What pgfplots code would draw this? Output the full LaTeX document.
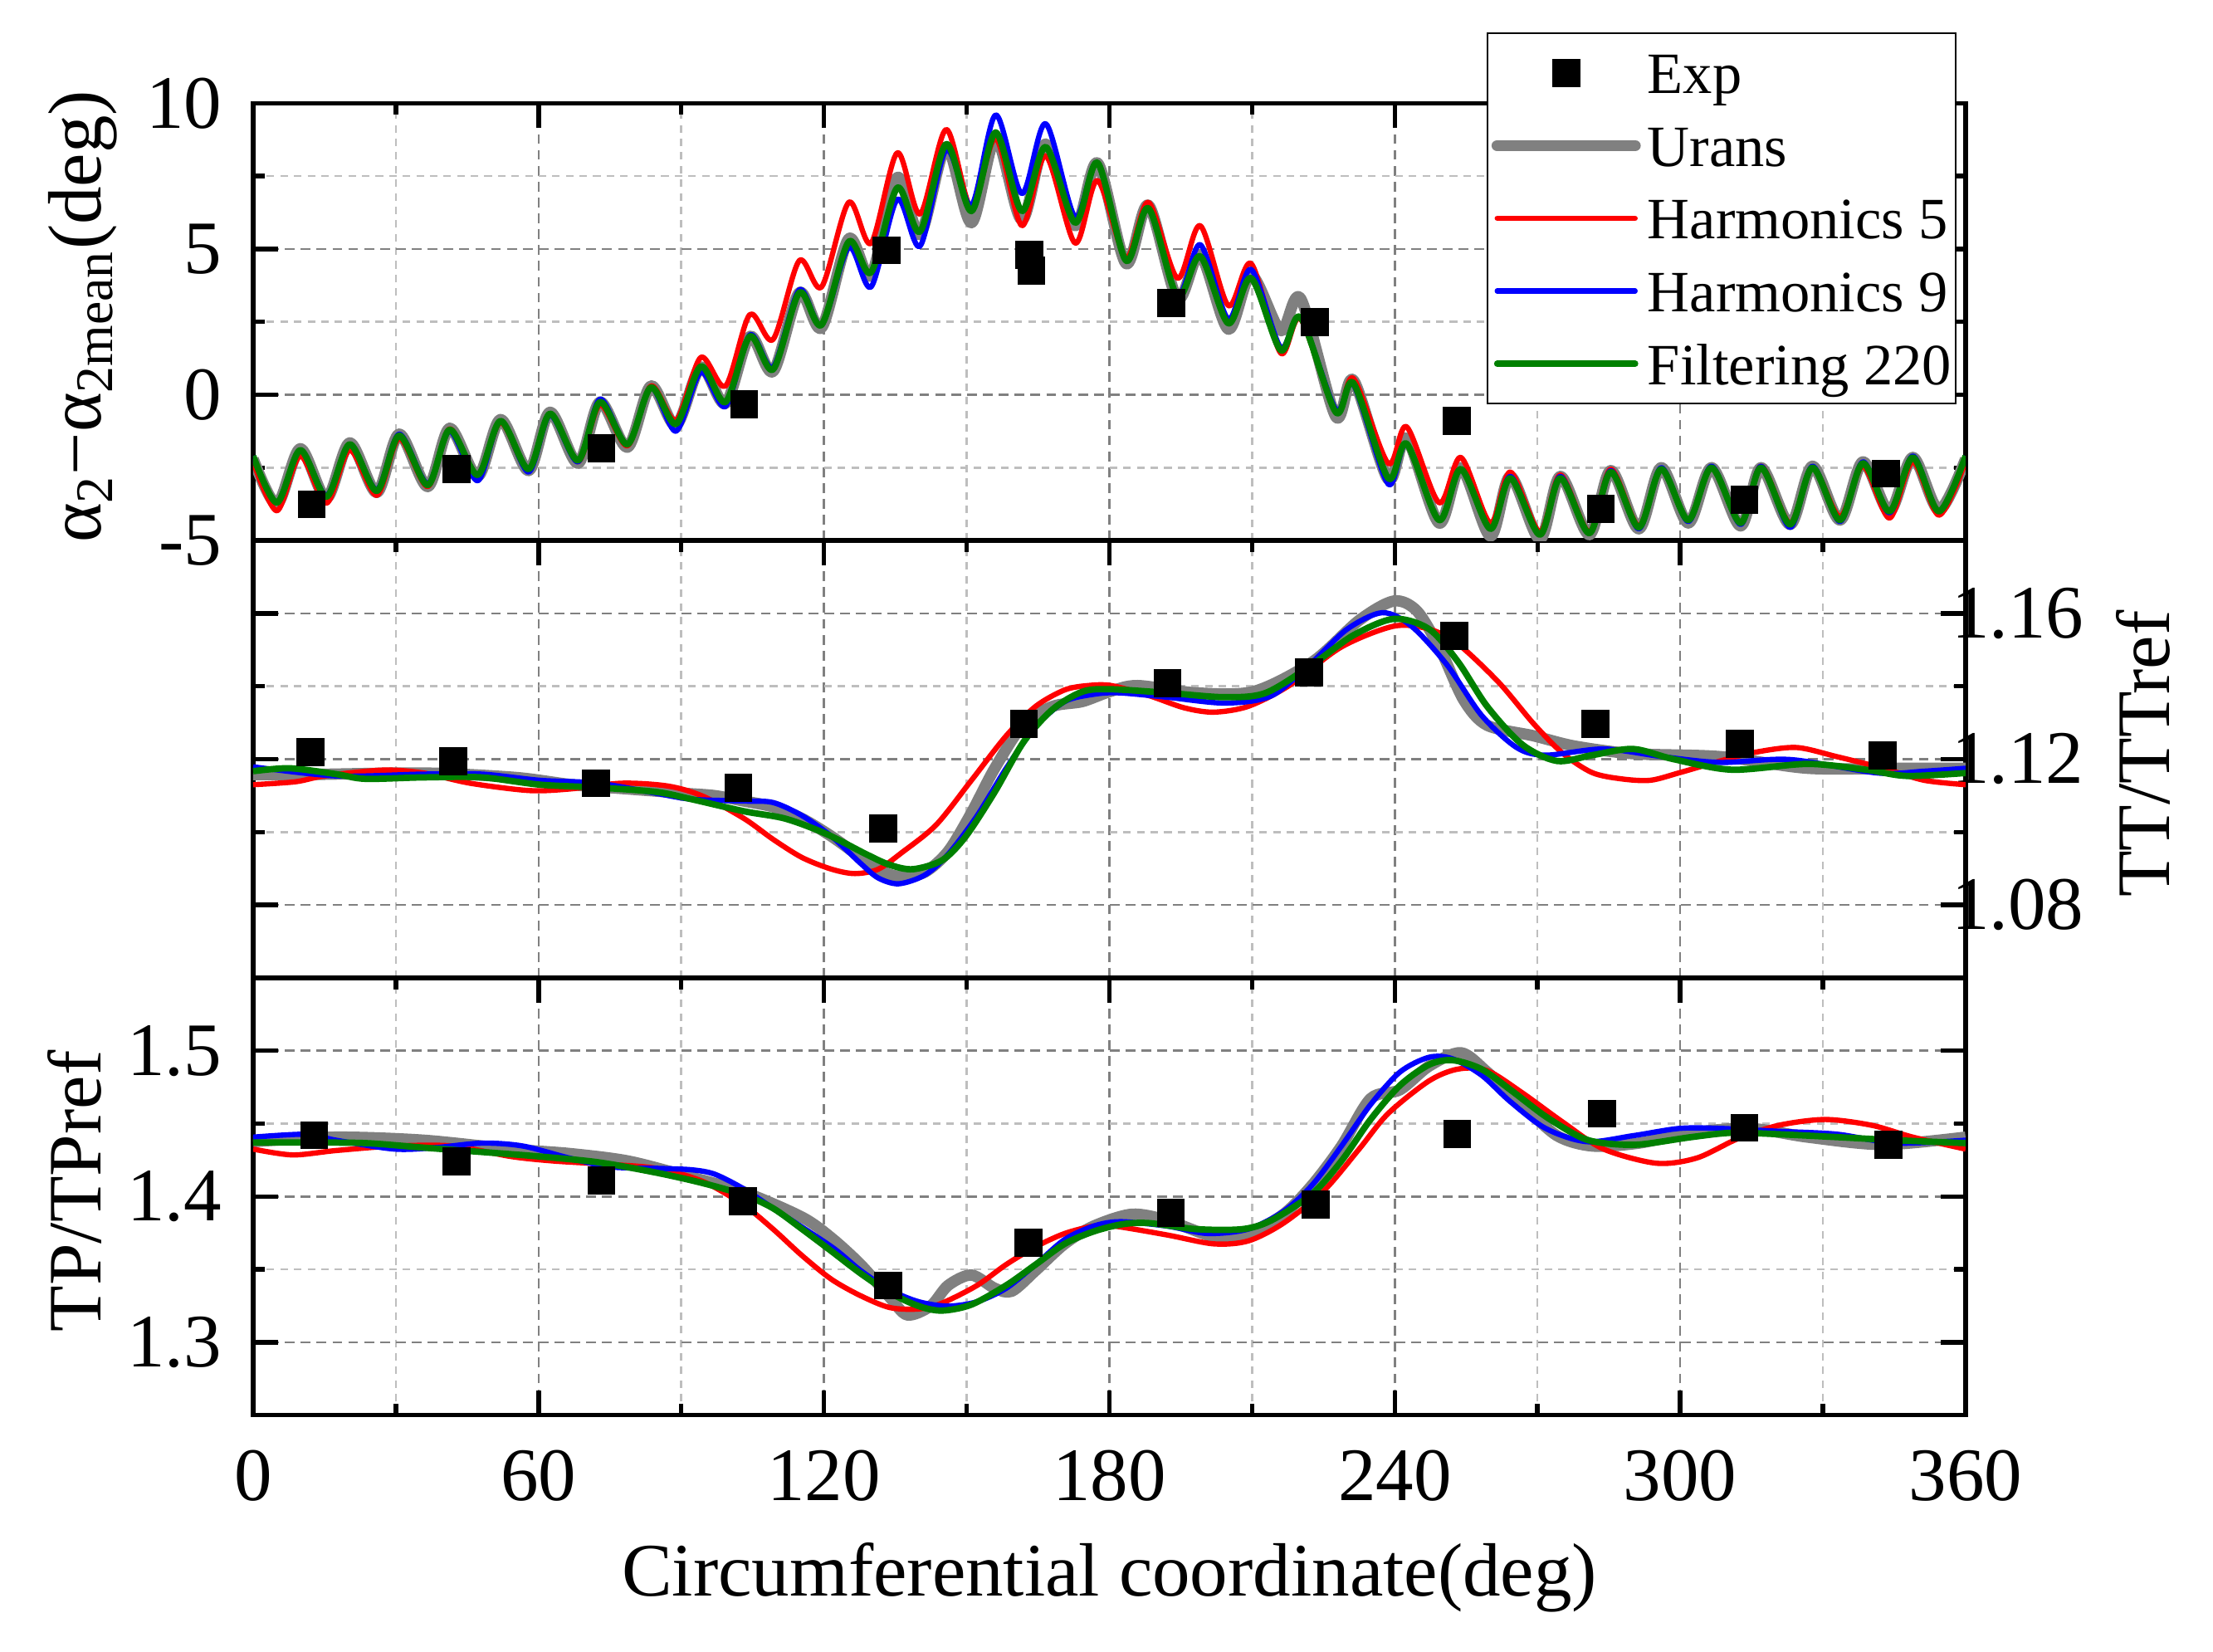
\documentclass[border=0pt]{standalone}
\usepackage{fontspec}
\setmainfont{Liberation Serif}
\usepackage{pgfplots}
\pgfplotsset{compat=1.18}
\definecolor{cgrey}{RGB}{128,128,128}
\definecolor{cgreen}{RGB}{0,128,0}
\definecolor{gridmaj}{RGB}{128,128,128}
\definecolor{gridmin}{RGB}{190,190,190}
\newcommand{\bigfont}{\fontsize{20}{24}\selectfont}
\newcommand{\legfont}{\fontsize{15.5}{18}\selectfont}
\newcommand{\lstrut}{\rule[-2pt]{0pt}{14.5pt}}
\pgfplotsset{
  panel/.style={
    scale only axis, width=453.4pt, height=115.77pt,
    xmin=0, xmax=360,
    xtick={0,60,...,360}, minor xtick={30,90,...,330},
    tick align=inside,
    major tick length=6.6pt, minor tick length=3.1pt,
    major tick style={black, line width=1.2pt},
    minor tick style={black, line width=1.2pt},
    axis line style={black, line width=1.2pt},
    grid=both,
    major grid style={gridmaj, line width=0.55pt, dash pattern=on 2.6pt off 1.6pt},
    minor grid style={gridmin, line width=0.55pt, dash pattern=on 2pt off 1.6pt},
    tick label style={font=\bigfont, inner sep=0pt},
    label style={font=\bigfont},
    xticklabel style={anchor=base, yshift=-22.7pt},
    yticklabel style={anchor=east, xshift=-8.1pt},
    ylabel style={at={(axis description cs:-0.089,0.512)}, anchor=base},
    ytick pos=both,
  },
  sexp/.style={only marks, mark=square*, mark size=3.6pt, mark options={draw=black, fill=black, line width=0.2pt}},
  explegend/.style={legend image code/.code={\draw[##1, only marks, mark repeat=2, mark phase=2] plot coordinates {(0pt,0pt)(18.25pt,0pt)(36.5pt,0pt)};}},
  linelegend/.style={legend image code/.code={\draw[##1, line cap=round] (0pt,0pt) -- (36.5pt,0pt);}},
  surans/.style={cgrey, line width=3pt, smooth, line join=round},
  sh5/.style={red, line width=1.4pt, smooth, line join=round},
  sh9/.style={blue, line width=1.4pt, smooth, line join=round},
  sf220/.style={cgreen, line width=1.7pt, smooth, line join=round},
}
\begin{document}
\begin{tikzpicture}
% ---------------- bottom panel ----------------
\begin{axis}[panel, at={(67.03pt,62.5pt)}, anchor=south west,
  ymin=1.25, ymax=1.55, ytick={1.3,1.4,1.5}, minor ytick={1.35,1.45},
  yticklabels={1.3,1.4,1.5},
  xticklabels={0,60,120,180,240,300,360},
  xtick pos=both,
  ylabel={TP/TPref},
  xlabel={Circumferential coordinate(deg)},
  xlabel style={at={(axis description cs:0.5,0)}, anchor=base, yshift=-47.9pt},
]
\addplot[sexp] coordinates {(12.8,1.442)(42.7,1.424)(73.2,1.4108)(103,1.3967)(133.5,1.339)(163,1.3683)(192.9,1.3888)(223.3,1.3945)(253.1,1.4427)(283.6,1.4569)(313.5,1.4472)(343.8,1.4354)};
\addplot[surans] coordinates {(0,1.4376)(17.4,1.4407)(35.8,1.4386)(54.2,1.4325)(66.4,1.4295)(78.7,1.4244)(90.9,1.4142)(103.2,1.403)(115.4,1.3858)(121.6,1.3715)(127.7,1.3533)(133.8,1.3309)(137.5,1.3187)(142.4,1.3248)(146.1,1.339)(151.0,1.3461)(155.9,1.337)(159.5,1.335)(164.5,1.3492)(170.6,1.3675)(176.7,1.3797)(184.7,1.3878)(192.1,1.3837)(201.9,1.3726)(209.2,1.3746)(216.6,1.3878)(222.7,1.4081)(228.8,1.4346)(234.9,1.4671)(241.1,1.4732)(247.2,1.4894)(253.9,1.4986)(259.4,1.4854)(266.8,1.463)(274.1,1.4417)(281.5,1.4346)(291.3,1.4366)(302.3,1.4437)(314.6,1.4467)(326.8,1.4407)(342.7,1.4356)(360,1.4407)};
\addplot[sh5] coordinates {(0,1.4325)(8.3,1.4285)(17.4,1.4315)(29.7,1.4346)(42.0,1.4346)(54.2,1.4274)(62.8,1.4244)(72.6,1.4224)(84.8,1.4193)(94.6,1.4102)(103.2,1.3939)(109.3,1.3776)(115.4,1.3594)(121.6,1.3431)(127.7,1.3319)(133.8,1.3238)(139.9,1.3228)(144.8,1.3268)(152.2,1.339)(158.3,1.3533)(164.5,1.3655)(170.6,1.3746)(176.7,1.3797)(181.0,1.3797)(192.1,1.3736)(201.9,1.3675)(209.2,1.3695)(216.6,1.3817)(225.1,1.404)(232.5,1.4325)(238.6,1.4569)(247.2,1.4793)(253.3,1.4874)(259.4,1.4864)(266.8,1.4711)(275.4,1.4508)(283.9,1.4325)(295.0,1.4228)(303.5,1.4264)(312.1,1.4396)(320.7,1.4488)(330.5,1.4528)(340.3,1.4488)(348.9,1.4407)(360,1.4325)};
\addplot[sh9] coordinates {(0,1.4407)(11.3,1.4427)(17.4,1.4386)(29.7,1.4325)(38.3,1.4335)(48.1,1.4366)(56.7,1.4346)(66.4,1.4264)(75.0,1.4203)(84.8,1.4193)(92.2,1.4183)(97.1,1.4152)(103.2,1.4051)(109.3,1.3919)(121.6,1.3655)(127.7,1.3492)(133.8,1.336)(139.9,1.3278)(146.1,1.3248)(152.2,1.3278)(158.3,1.337)(164.5,1.3533)(170.6,1.3705)(176.7,1.3797)(182.3,1.3827)(192.1,1.3797)(200.6,1.3746)(209.2,1.3776)(216.6,1.3898)(222.7,1.4081)(228.8,1.4346)(234.9,1.463)(241.1,1.4854)(247.2,1.4955)(252.1,1.4945)(258.2,1.4833)(264.3,1.465)(271.7,1.4467)(280.3,1.4376)(290.1,1.4417)(299.9,1.4467)(308.4,1.4467)(320.7,1.4447)(333.0,1.4427)(345.2,1.4366)(360,1.4386)};
\addplot[sf220] coordinates {(0,1.437)(11.3,1.437)(23.6,1.4366)(35.8,1.4335)(48.1,1.4305)(60.3,1.4274)(72.6,1.4234)(84.8,1.4163)(94.6,1.4091)(103.2,1.401)(109.3,1.3919)(115.4,1.3776)(121.6,1.3624)(127.7,1.3472)(133.8,1.334)(139.9,1.3248)(144.8,1.3217)(151.0,1.3258)(158.3,1.339)(164.5,1.3533)(170.6,1.3675)(176.7,1.376)(182.8,1.381)(188.4,1.3817)(198.2,1.3776)(208.0,1.3776)(214.1,1.3837)(222.7,1.402)(228.8,1.4244)(234.9,1.4528)(241.1,1.4762)(247.2,1.4904)(252.1,1.4935)(258.2,1.4874)(264.3,1.4732)(271.7,1.4549)(279.0,1.4407)(283.9,1.4366)(291.3,1.4356)(302.3,1.4407)(310.9,1.4437)(320.7,1.4427)(333.0,1.4407)(345.2,1.4386)(360,1.4366)};
\end{axis}
% ---------------- middle panel ----------------
\begin{axis}[panel, at={(67.03pt,178.27pt)}, anchor=south west,
  ymin=1.06, ymax=1.18, ytick={1.08,1.12,1.16}, minor ytick={1.10,1.14},
  yticklabels={1.08,1.12,1.16},
  yticklabel pos=right,
  yticklabel style={anchor=west, xshift=4.2pt},
  xtick pos=right, xticklabel=\empty,
  ylabel={TT/TTref},
  ylabel style={at={(axis description cs:1.1188,0.512)}, anchor=base},
]
\addplot[sexp] coordinates {(12,1.1219)(42,1.1195)(72,1.1134)(102,1.1121)(132.4,1.1009)(162,1.1297)(192.2,1.1409)(222,1.1439)(252.5,1.1539)(282.1,1.1297)(312.5,1.1243)(342.5,1.121)};
\addplot[surans] coordinates {(0,1.1158)(12,1.1158)(36,1.1162)(55,1.115)(67,1.113)(79,1.1118)(91,1.1106)(97,1.110)(103.2,1.1085)(109.3,1.1069)(115.4,1.1037)(121.6,1.0988)(127.7,1.0931)(132.6,1.089)(136.3,1.0878)(141.2,1.089)(146.1,1.0947)(151.0,1.1053)(155.9,1.1175)(162.0,1.1297)(168.1,1.1345)(174.3,1.1358)(180.0,1.1385)(185.9,1.1402)(198.2,1.1382)(210.4,1.1386)(222.7,1.1467)(232.5,1.1581)(239.8,1.1634)(244.7,1.1606)(249.6,1.15)(254.5,1.1362)(259.4,1.1293)(269.2,1.1264)(277.8,1.1236)(290.1,1.1215)(308.4,1.1207)(326.8,1.1175)(345.2,1.1175)(360,1.1175)};
\addplot[sh5] coordinates {(0,1.113)(8.9,1.1138)(15.0,1.1154)(27.2,1.117)(35.8,1.1162)(45.6,1.1134)(57.9,1.1114)(66.4,1.1118)(77.5,1.1134)(87.3,1.1126)(94.6,1.1098)(103.2,1.1037)(109.3,1.098)(115.4,1.093)(121.6,1.0898)(126.5,1.0886)(131.4,1.0898)(136.3,1.0943)(143.6,1.102)(151.0,1.1142)(158.3,1.1264)(164.5,1.1345)(170.6,1.139)(175.5,1.1402)(180.4,1.1402)(188.4,1.1374)(195.7,1.1341)(201.9,1.1329)(209.2,1.1345)(217.8,1.1402)(228.8,1.1508)(239.8,1.1565)(247.2,1.1557)(253.3,1.1516)(261.9,1.141)(269.2,1.1297)(275.4,1.1215)(281.5,1.1163)(287.6,1.1146)(293.7,1.1142)(299.9,1.1163)(308.4,1.1195)(315.8,1.1219)(324.4,1.1232)(332.9,1.1207)(342.7,1.1175)(351.3,1.1142)(360,1.113)};
\addplot[sh9] coordinates {(0,1.1179)(17.4,1.1154)(35.8,1.1159)(48.1,1.1159)(60.3,1.1142)(72.6,1.1134)(84.8,1.1106)(92.2,1.109)(103.2,1.1085)(109.3,1.1081)(115.4,1.1045)(121.6,1.0988)(127.7,1.0914)(131.4,1.0874)(135.7,1.0858)(141.2,1.0882)(146.1,1.0939)(152.2,1.1045)(158.3,1.1175)(164.5,1.1289)(170.6,1.1358)(176.7,1.1378)(182.0,1.1382)(192.1,1.137)(204.3,1.1354)(214.1,1.1374)(222.7,1.1467)(230.0,1.1557)(237.4,1.1602)(243.5,1.1565)(250.9,1.146)(258.2,1.1321)(265.6,1.1232)(271.7,1.1211)(283.9,1.1228)(296.2,1.1207)(308.4,1.1191)(323.1,1.1199)(341.5,1.1162)(351.3,1.1167)(360,1.1175)};
\addplot[sf220] coordinates {(0,1.1167)(7.7,1.1175)(17.4,1.1159)(23.6,1.1146)(35.8,1.115)(48.1,1.115)(60.3,1.113)(72.6,1.1122)(84.8,1.111)(92.2,1.109)(103.2,1.1057)(111.8,1.1037)(120.3,1.0996)(128.9,1.0939)(133.8,1.091)(138.7,1.0898)(144.9,1.0923)(149.8,1.0988)(155.9,1.111)(162.0,1.1248)(168.1,1.1337)(174.3,1.1385)(180.0,1.1392)(192.1,1.1382)(204.3,1.137)(212.9,1.1382)(222.7,1.146)(231.3,1.154)(239.8,1.1585)(247.2,1.1557)(253.3,1.1467)(259.4,1.1345)(266.8,1.124)(274.1,1.1195)(281.5,1.1211)(290.1,1.1228)(298.6,1.12)(310.9,1.1171)(326.8,1.1187)(339.1,1.1171)(347.6,1.1154)(360,1.1162)};
\end{axis}
% ---------------- top panel ----------------
\begin{axis}[panel, at={(67.03pt,294.04pt)}, anchor=south west,
  ymin=-5, ymax=10, ytick={-5,0,5,10}, minor ytick={-2.5,2.5,7.5},
  yticklabels={-5,0,5,10},
  xtick pos=right, xticklabel=\empty,
  ylabel={α\textsubscript{2}−α\textsubscript{2mean}(deg)},
  legend style={at={(0.9946,1.1623)}, anchor=north east, draw=black, line width=0.5pt,
    fill=white, font=\legfont, inner xsep=1pt, inner ysep=3.5pt, row sep=5.25pt,
    nodes={inner sep=0pt}, /tikz/every odd column/.append style={column sep=1.8pt}},
  legend cell align=left,
  linelegend,
]
\addplot[sexp, explegend] coordinates {(12.3,-3.76)(42.8,-2.55)(73.2,-1.84)(103.2,-0.32)(133.2,4.96)(163.1,4.8)(163.6,4.25)(193.05,3.14)(223.2,2.49)(253.0,-0.89)(283.3,-3.91)(313.5,-3.6)(343.3,-2.7)};
\addlegendentry{\lstrut Exp}
\addplot[surans] coordinates {(0,-2.2)(5.0,-3.75)(9.9,-1.85)(15.4,-3.55)(20.3,-1.65)(26.0,-3.35)(30.7,-1.35)(36.7,-3.15)(41.3,-1.15)(47.2,-2.8)(52.0,-0.85)(57.9,-2.6)(62.4,-0.6)(68.3,-2.35)(72.9,-0.25)(78.7,-1.8)(83.6,0.3)(88.9,-1.05)(94.1,0.95)(99.3,-0.3)(104.4,2.0)(109.3,0.8)(114.8,3.5)(119.5,2.3)(125.2,5.35)(129.9,4.1)(135.4,7.45)(140.2,5.5)(145.7,8.5)(151.0,5.9)(156.1,8.8)(161.6,6.0)(166.6,8.6)(172.8,5.8)(177.5,7.95)(183.5,4.5)(188.2,6.5)(194.3,3.3)(199.1,4.8)(205.0,2.25)(209.8,4.1)(216.0,2.2)(220.2,3.3)(227.6,-0.75)(231.3,0.5)(238.6,-2.9)(242.5,-1.5)(249.3,-4.4)(253.9,-2.5)(260.1,-4.85)(264.3,-2.8)(270.5,-4.95)(274.8,-2.8)(280.9,-4.8)(285.4,-2.6)(291.3,-4.6)(296.0,-2.5)(301.7,-4.4)(306.6,-2.5)(312.7,-4.5)(317.0,-2.5)(323.1,-4.45)(327.8,-2.45)(333.6,-4.3)(338.4,-2.3)(344.0,-4.0)(348.9,-2.15)(354.4,-3.95)(360,-2.2)};
\addlegendentry{\lstrut Urans}
\addplot[sh5] coordinates {(0,-2.3)(5.0,-3.98)(9.9,-2.1)(15.4,-3.72)(20.3,-1.9)(26.0,-3.45)(30.7,-1.5)(36.7,-3.15)(41.3,-1.17)(47.2,-2.8)(52.0,-0.95)(57.9,-2.6)(62.4,-0.65)(68.3,-2.3)(72.9,-0.35)(78.7,-1.75)(83.6,0.3)(88.9,-0.87)(94.1,1.28)(99.3,0.3)(104.4,2.75)(109.3,1.9)(114.8,4.6)(119.5,3.7)(125.2,6.6)(129.9,5.2)(135.4,8.3)(140.2,6.2)(145.7,9.1)(151.0,6.4)(156.1,8.8)(161.6,5.8)(166.6,8.2)(172.8,5.2)(177.5,7.35)(183.5,4.7)(188.2,6.6)(194.3,4.0)(199.1,5.8)(205.0,3.06)(209.8,4.5)(216.0,1.43)(220.2,2.6)(227.6,-0.6)(231.3,0.56)(238.6,-2.35)(242.5,-1.1)(249.3,-3.7)(253.9,-2.15)(260.1,-4.4)(264.3,-2.65)(270.5,-4.7)(274.8,-2.75)(280.9,-4.7)(285.4,-2.55)(291.3,-4.5)(296.0,-2.55)(301.7,-4.3)(306.6,-2.5)(312.7,-4.4)(317.0,-2.45)(323.1,-4.4)(327.8,-2.5)(333.6,-4.18)(338.4,-2.45)(344.0,-4.23)(348.9,-2.3)(354.4,-4.13)(360,-2.3)};
\addlegendentry{\lstrut Harmonics 5}
\addplot[sh9] coordinates {(0,-2.1)(5.0,-3.7)(9.9,-1.9)(15.4,-3.45)(20.3,-1.7)(26.0,-3.25)(30.7,-1.35)(36.7,-3.05)(41.3,-1.25)(47.2,-2.95)(52.0,-0.9)(57.9,-2.65)(62.4,-0.7)(68.3,-2.3)(72.9,-0.15)(78.7,-1.7)(83.6,0.25)(88.9,-1.25)(94.1,0.77)(99.3,-0.4)(104.4,2.05)(109.3,0.95)(114.8,3.6)(119.5,2.4)(125.2,5.05)(129.9,3.7)(135.4,6.7)(140.2,5.1)(145.7,8.4)(151.0,6.5)(156.1,9.6)(161.6,6.9)(166.6,9.3)(172.8,6.1)(177.5,7.96)(183.5,4.6)(188.2,6.4)(194.3,3.4)(199.1,5.15)(205.0,2.6)(209.8,4.3)(216.0,1.63)(220.2,2.65)(227.6,-0.5)(231.3,0.35)(238.6,-3.06)(242.5,-1.7)(249.3,-4.3)(253.9,-2.55)(260.1,-4.6)(264.3,-2.8)(270.5,-4.8)(274.8,-2.8)(280.9,-4.75)(285.4,-2.6)(291.3,-4.6)(296.0,-2.5)(301.7,-4.35)(306.6,-2.45)(312.7,-4.45)(317.0,-2.45)(323.1,-4.55)(327.8,-2.45)(333.6,-4.35)(338.4,-2.3)(344.0,-4.05)(348.9,-2.1)(354.4,-4.0)(360,-2.1)};
\addlegendentry{\lstrut Harmonics 9}
\addplot[sf220] coordinates {(0,-2.1)(5.0,-3.7)(9.9,-1.9)(15.4,-3.5)(20.3,-1.7)(26.0,-3.3)(30.7,-1.4)(36.7,-3.1)(41.3,-1.2)(47.2,-2.75)(52.0,-0.9)(57.9,-2.55)(62.4,-0.65)(68.3,-2.25)(72.9,-0.25)(78.7,-1.7)(83.6,0.25)(88.9,-1.0)(94.1,0.97)(99.3,-0.25)(104.4,2.0)(109.3,0.87)(114.8,3.5)(119.5,2.4)(125.2,5.25)(129.9,4.2)(135.4,7.1)(140.2,5.6)(145.7,8.6)(151.0,6.3)(156.1,9.0)(161.6,6.3)(166.6,8.5)(172.8,5.9)(177.5,7.96)(183.5,4.6)(188.2,6.4)(194.3,3.37)(199.1,4.75)(205.0,2.45)(209.8,4.0)(216.0,1.53)(220.2,2.65)(227.6,-0.6)(231.3,0.4)(238.6,-2.86)(242.5,-1.68)(249.3,-4.3)(253.9,-2.55)(260.1,-4.6)(264.3,-2.86)(270.5,-4.8)(274.8,-2.86)(280.9,-4.75)(285.4,-2.65)(291.3,-4.55)(296.0,-2.55)(301.7,-4.3)(306.6,-2.5)(312.7,-4.4)(317.0,-2.5)(323.1,-4.45)(327.8,-2.5)(333.6,-4.3)(338.4,-2.35)(344.0,-4.0)(348.9,-2.15)(354.4,-4.0)(360,-2.1)};
\addlegendentry{\lstrut Filtering 220}
\end{axis}
\pgfresetboundingbox
\useasboundingbox (0,0) rectangle (585.93pt,437.14pt);
\end{tikzpicture}
\end{document}
